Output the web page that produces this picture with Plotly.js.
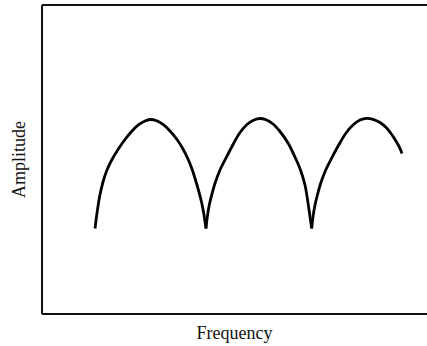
<!DOCTYPE html>
<html>
<head>
<meta charset="utf-8">
<script src="https://cdn.plot.ly/plotly-3.0.1.min.js"></script>
<style>html,body{margin:0;padding:0;background:#fff;}#chart{width:427px;height:346px;}</style>
</head>
<body>
<div id="chart"></div>
<script>
// Arch 1 (frequency, amplitude in arbitrary units 0-100)
const arch1Freq = [13.77, 14.29, 14.94, 15.84, 16.88, 18.18, 19.74, 21.56, 23.38, 25.19, 26.75, 28.05, 29.61, 31.43, 33.25, 35.06, 36.62, 37.92, 38.96, 39.87, 40.78, 41.43, 41.95, 42.60];
const arch1Amp  = [27.67, 32.69, 37.86, 42.72, 46.60, 50.00, 53.24, 56.47, 59.22, 61.33, 62.46, 62.94, 62.62, 61.33, 59.22, 56.47, 53.40, 50.16, 46.93, 43.37, 39.48, 36.25, 33.01, 27.67];
// Arch 2
const arch2Freq = [42.60, 42.94, 43.45, 44.08, 44.94, 46.23, 47.97, 49.69, 51.43, 53.25, 55.06, 56.62, 58.18, 60.00, 61.82, 63.90, 65.71, 67.14, 68.31, 69.17, 70.05];
const arch2Amp  = [27.67, 31.49, 35.28, 38.51, 42.30, 46.60, 50.91, 55.02, 58.74, 61.33, 62.78, 63.27, 62.85, 61.49, 59.06, 55.34, 50.81, 46.60, 41.75, 35.28, 27.67];
// Arch 3
const arch3Freq = [70.05, 70.39, 70.91, 71.53, 72.39, 73.69, 75.43, 77.14, 78.96, 80.78, 82.60, 84.34, 85.97, 87.79, 89.53, 90.65, 91.69, 92.73, 93.51];
const arch3Amp  = [27.67, 31.49, 35.28, 38.51, 42.30, 46.60, 50.91, 54.85, 58.58, 61.17, 62.78, 63.33, 63.01, 61.97, 60.19, 58.41, 56.47, 54.21, 51.94];

const xTitle = "Frequency";
const yTitle = "Amplitude";

const lineStyle = {color: '#000', width: 2.8, shape: 'spline', smoothing: 1};
const mk = (x, y) => ({x: x, y: y, type: 'scatter', mode: 'lines', line: lineStyle, hoverinfo: 'skip', showlegend: false});

const data = [mk(arch1Freq, arch1Amp), mk(arch2Freq, arch2Amp), mk(arch3Freq, arch3Amp)];

const font = {family: '"Liberation Serif", "DejaVu Serif", serif', size: 18, color: '#111'};
const frameLine = {color: '#111', width: 2};

const layout = {
  width: 427, height: 346,
  margin: {l: 42, r: 0, t: 5, b: 32, pad: 0},
  paper_bgcolor: '#fff', plot_bgcolor: '#fff',
  showlegend: false,
  xaxis: {
    range: [0, 100], showgrid: false, zeroline: false, showticklabels: false, ticks: '',
    showline: false,
    title: {text: xTitle, font: font, standoff: 12}
  },
  yaxis: {
    range: [0, 100], showgrid: false, zeroline: false, showticklabels: false, ticks: '',
    showline: false,
    title: {text: yTitle, font: font, standoff: 10}
  },
  shapes: [
    {type: 'line', xref: 'paper', yref: 'paper', x0: 0, x1: 0, y0: 0, y1: 1, line: frameLine},
    {type: 'line', xref: 'paper', yref: 'paper', x0: 0, x1: 1, y0: 0, y1: 0, line: frameLine},
    {type: 'line', xref: 'paper', yref: 'paper', x0: 0, x1: 1, y0: 1, y1: 1, line: frameLine}
  ]
};

Plotly.newPlot('chart', data, layout, {staticPlot: true, displayModeBar: false});
</script>
</body>
</html>
